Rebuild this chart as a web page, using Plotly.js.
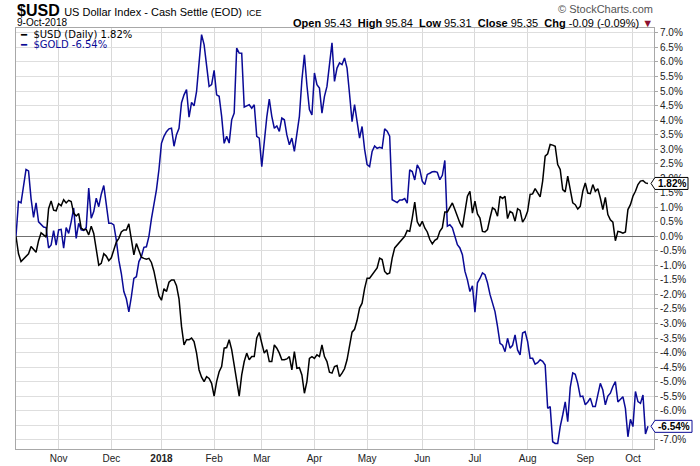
<!DOCTYPE html>
<html><head><meta charset="utf-8">
<script src="https://cdn.plot.ly/plotly-3.0.1.min.js"></script>
<style>html,body{margin:0;padding:0;background:#fff}#chart{width:700px;height:466px}</style>
</head><body><div id="chart"></div>
<script>
// % change since 9-Oct-2017, one value per trading day (index 0 = 9-Oct-2017, last = 9-Oct-2018)
const usd = [
 0, -0.6, -0.87, -0.78, -0.72, -0.6, -0.35, -0.45, -0.55, -0.15,
 0.12, 0.05, -0.03, 0.95, 1.22, 0.9, 0.88, 1.12, 1.05, 1.26,
 1.15, 1.24, 1.2, 0.8, 0.7, 0.78, 0.28, 0.22, 0.24, 0.05,
 0.35, 0.1, -0.45, -0.99, -0.93, -0.6, -0.68, -0.84, -0.74, -0.45,
 -0.2, -0.07, 0.15, 0.22, 0.22, 0.43, -0.13, -0.64, -0.25, -0.5,
 -0.72, -0.76, -0.79, -0.76, -0.9, -1.2, -1.65, -2.05, -2.2, -1.8,
 -1.9, -1.58, -1.5, -1.5, -1.7, -2.15, -3.1, -3.74, -3.56, -3.56,
 -3.5, -3.62, -4.02, -4.6, -4.85, -5.0, -4.83, -4.89, -5.06, -5.5,
 -5.0, -4.66, -4.48, -3.85, -3.83, -3.56, -3.9, -4.43, -5.0, -5.5,
 -4.77, -4.31, -4.02, -4.25, -4.14, -4.14, -3.5, -3.31, -3.68, -4.02,
 -3.9, -4.31, -4.31, -3.74, -3.85, -4.02, -4.25, -4.25, -4.22, -4.14,
 -4.6, -3.97, -4.54, -4.52, -4.77, -5.4, -5.0, -4.2, -4.14, -4.2,
 -4.08, -4.14, -3.74, -4.14, -4.31, -4.68, -4.71, -4.48, -4.45, -4.83,
 -4.71, -4.56, -4.25, -3.7, -3.3, -3.2, -2.9, -2.47, -2.3, -1.8,
 -1.44, -1.44, -1.32, -1.21, -1.09, -0.75, -0.8, -1.21, -1.3, -1.26,
 -0.75, -0.4, -0.29, -0.2, -0.09, 0.0, 0.2, 0.17, 0.63, 1.18,
 0.5, 0.34, 0.52, 0.29, 0.15, -0.11, -0.26, -0.14, -0.08, 0.17,
 0.3, 0.84, 0.84, 0.98, 1.15, 0.92, 0.66, 0.46, 0.31, 0.9,
 1.38, 1.55, 0.8, 1.21, 0.77, 0.63, 0.17, 0.15, 0.23, 0.63,
 0.98, 0.92, 0.69, 1.38, 1.3, 1.38, 0.61, 0.86, 0.8, 0.52,
 0.95, 0.89, 0.49, 0.63, 0.86, 1.44, 1.46, 1.64, 1.49, 1.36,
 1.9, 2.76, 2.84, 3.16, 3.14, 3.1, 2.47, 2.3, 1.61, 1.53,
 2.07, 1.55, 1.15, 1.09, 0.94, 1.03, 1.55, 1.84, 1.49, 1.47,
 1.78, 1.55, 1.64, 1.32, 0.92, 1.34, 0.75, 0.57, 0.49, -0.15,
 0.17, 0.15, 0.11, 0.15, 0.92, 1.09, 1.38, 1.55, 1.78, 1.9,
 1.92, 1.84, 1.82
];
const gold = [
 0, 1.2, 1.15, 1.7, 2.3, 2.25, 1.3, 0.65, 1.15, 0.5,
 0.4, 0.32, 0.3, -0.4, -0.3, 0.2, -0.3, 0.22, 0.24, -0.41,
 0.3, 0.1, 0.5, 0.97, -0.07, 0.45, 0.22, 0.2, 0.3, 1.66,
 0.62, 0.85, 1.31, 1.02, 1.45, 1.75, 1.1, 0.45, 0.45, 0.39,
 -0.13, -0.82, -1.28, -1.9, -2.15, -2.6, -2.08, -1.45, -1.39, -0.87,
 -0.7, -0.38, -0.36, 0.0, 0.6, 1.1, 1.6, 2.3, 3.2, 3.44,
 3.6, 3.7, 3.72, 3.1, 3.5, 3.72, 4.6, 4.87, 5.05, 4.1,
 4.61, 4.49, 4.99, 5.97, 6.94, 6.6, 5.9, 5.16, 5.22, 5.71,
 4.87, 4.82, 4.13, 3.2, 3.44, 3.21, 4.01, 4.24, 6.48, 6.31,
 6.3, 4.45, 4.49, 4.53, 4.41, 4.53, 3.44, 3.38, 2.4, 3.4,
 4.1, 4.72, 4.13, 3.72, 3.8, 3.61, 4.07, 4.01, 3.49, 3.15,
 3.38, 2.92, 3.49, 4.13, 5.39, 6.25, 5.2, 4.36, 4.18, 5.62,
 5.22, 5.1, 4.24, 4.82, 5.16, 5.85, 6.66, 5.33, 5.79, 5.97,
 5.91, 6.14, 5.79, 4.9, 3.95, 4.53, 4.01, 3.38, 3.78, 3.0,
 2.47, 2.4, 2.92, 3.11, 3.03, 3.06, 3.03, 3.7, 3.62, 3.45,
 1.26, 1.2, 1.16, 1.25, 1.25, 1.3, 1.14, 2.29, 2.23, 1.94,
 2.46, 2.3, 1.9, 1.78, 2.13, 2.17, 2.22, 2.23, 2.2, 1.95,
 2.1, 2.61, 0.35, 0.4, 0.29, 0.0, -0.29, -0.4, -0.63, -1.2,
 -1.5, -1.9, -1.7, -2.61, -1.6, -1.45, -1.26, -1.32, -1.6, -2.0,
 -2.3, -2.59, -3.1, -3.68, -3.75, -3.97, -3.51, -3.85, -3.75, -3.39,
 -3.91, -4.08, -3.33, -3.28, -3.62, -4.2, -4.2, -4.4, -4.35, -4.25,
 -4.3, -4.43, -5.92, -5.86, -7.07, -7.13, -7.13, -6.55, -6.15, -5.7,
 -6.38, -5.2, -4.7, -4.75, -5.06, -5.52, -5.5, -5.8, -5.7, -5.57,
 -5.86, -5.86, -5.46, -5.06, -5.29, -5.8, -5.5, -5.4, -5.17, -5.0,
 -5.7, -5.6, -5.52, -5.92, -6.9, -6.3, -6.55, -5.34, -5.69, -5.75,
 -5.46, -6.8, -6.54
];
const monthTickIdx = [17, 38, 58, 79, 98, 119, 140, 162, 183, 204, 227, 246];
const monthLabels = ['Nov', 'Dec', '<b>2018</b>', 'Feb', 'Mar', 'Apr', 'May', 'Jun', 'Jul', 'Aug', 'Sep', 'Oct'];
const yTickVals = [7, 6.5, 6, 5.5, 5, 4.5, 4, 3.5, 3, 2.5, 2, 1.5, 1, 0.5, 0, -0.5, -1, -1.5, -2, -2.5, -3, -3.5, -4, -4.5, -5, -5.5, -6, -6.5, -7];
const yTickText = yTickVals.map(v => v.toFixed(1) + '%');
const quote = {open: '95.43', high: '95.84', low: '95.31', close: '95.35', chg: '-0.09', chgPct: '-0.09%'};

const xIdx = usd.map((_, i) => i);
const usdLast = usd[usd.length - 1];
const goldLast = gold[gold.length - 1];
const NAVY = '#0a0a96';
const FONT = 'Liberation Sans, Arial, sans-serif';

// pixel -> paper helpers (plot area: x 16..654, y 28..449)
const PL = 16, PR = 654, PT = 28, PB = 449;
const px = x => (x - PL) / (PR - PL);
const py = y => (PB - y) / (PB - PT);

const traces = [
  {x: xIdx, y: gold, type: 'scatter', mode: 'lines', line: {color: NAVY, width: 1.5}, hoverinfo: 'skip'},
  {x: xIdx, y: usd, type: 'scatter', mode: 'lines', line: {color: '#000000', width: 1.5}, hoverinfo: 'skip'}
];

const ann = [
  {xref: 'paper', yref: 'paper', x: px(15), y: py(10.5), xanchor: 'left', yanchor: 'middle', showarrow: false,
   text: "<b>$USD</b> <span style='font-size:11px'>US Dollar Index - Cash Settle (EOD)</span> <span style='font-size:9px'>ICE</span>",
   font: {family: FONT, size: 16, color: '#000'}},
  {xref: 'paper', yref: 'paper', x: px(15), y: py(22.5), xanchor: 'left', yanchor: 'middle', showarrow: false,
   text: '9-Oct-2018', font: {family: FONT, size: 10, color: '#000'}},
  {xref: 'paper', yref: 'paper', x: px(655), y: py(22.5), xanchor: 'right', yanchor: 'middle', showarrow: false,
   text: '<b>Open</b> ' + quote.open + '  <b>High</b> ' + quote.high + '  <b>Low</b> ' + quote.low +
         '  <b>Close</b> ' + quote.close + '  <b>Chg</b> ' + quote.chg + ' (' + quote.chgPct + ") <span style='color:#8b1030'>▼</span>",
   font: {family: FONT, size: 11, color: '#000'}},
  {xref: 'paper', yref: 'paper', x: px(655), y: py(9), xanchor: 'right', yanchor: 'middle', showarrow: false,
   text: '© StockCharts.com', font: {family: FONT, size: 11, color: '#555'}},
  {xref: 'paper', yref: 'paper', x: px(18), y: py(34.5), xanchor: 'left', yanchor: 'middle', showarrow: false,
   text: '━\u00a0 $USD (Daily) ' + usdLast.toFixed(2) + '%', font: {family: 'DejaVu Sans, Verdana, sans-serif', size: 10, color: '#000'}},
  {xref: 'paper', yref: 'paper', x: px(18), y: py(44.5), xanchor: 'left', yanchor: 'middle', showarrow: false,
   text: '━\u00a0 $GOLD ' + goldLast.toFixed(2) + '%', font: {family: 'DejaVu Sans, Verdana, sans-serif', size: 10, color: NAVY}},
  {xref: 'paper', yref: 'y', x: px(671.5), y: usdLast, xanchor: 'center', yanchor: 'middle', showarrow: false,
   text: '<b>' + usdLast.toFixed(2) + '%</b>', font: {family: FONT, size: 10, color: '#000'}},
  {xref: 'paper', yref: 'y', x: px(673.5), y: goldLast, xanchor: 'center', yanchor: 'middle', showarrow: false,
   text: '<b>' + goldLast.toFixed(2) + '%</b>', font: {family: FONT, size: 10, color: '#000'}}
];

const shapes = [
  {type: 'path', xref: 'paper', yref: 'y', xsizemode: 'pixel', ysizemode: 'pixel', xanchor: 1, yanchor: usdLast,
   path: 'M -3 0 L 1 6 L 34 6 L 34 -6 L 1 -6 Z', fillcolor: '#ffffff', line: {color: '#000', width: 1}, layer: 'above'},
  {type: 'path', xref: 'paper', yref: 'y', xsizemode: 'pixel', ysizemode: 'pixel', xanchor: 1, yanchor: goldLast,
   path: 'M -3 0 L 1 6 L 38 6 L 38 -6 L 1 -6 Z', fillcolor: '#ffffff', line: {color: NAVY, width: 1}, layer: 'above'}
];

const layout = {
  width: 700, height: 466,
  margin: {l: PL, r: 700 - PR, t: PT, b: 466 - PB, pad: 0},
  paper_bgcolor: '#fff', plot_bgcolor: '#fff',
  showlegend: false,
  xaxis: {range: [0, 254.4], tickvals: monthTickIdx, ticktext: monthLabels, showgrid: true, gridcolor: '#d9d9d9',
          gridwidth: 1, zeroline: false, showline: true, mirror: true, linecolor: '#a8a8a8', linewidth: 1, ticks: '',
          tickfont: {family: FONT, size: 10, color: '#222'}, fixedrange: true},
  yaxis: {side: 'right', range: [-7.32, 7.17], tickvals: yTickVals, ticktext: yTickText, showgrid: true,
          gridcolor: '#dedede', gridwidth: 1, zeroline: true, zerolinecolor: '#707070', zerolinewidth: 1,
          showline: true, mirror: true, linecolor: '#a8a8a8', linewidth: 1, ticks: 'outside', ticklen: 3,
          tickcolor: '#a8a8a8', tickfont: {family: FONT, size: 10, color: '#222'}, fixedrange: true},
  annotations: ann,
  shapes: shapes
};

Plotly.newPlot('chart', traces, layout, {displayModeBar: false, staticPlot: true});
</script>
</body></html>
